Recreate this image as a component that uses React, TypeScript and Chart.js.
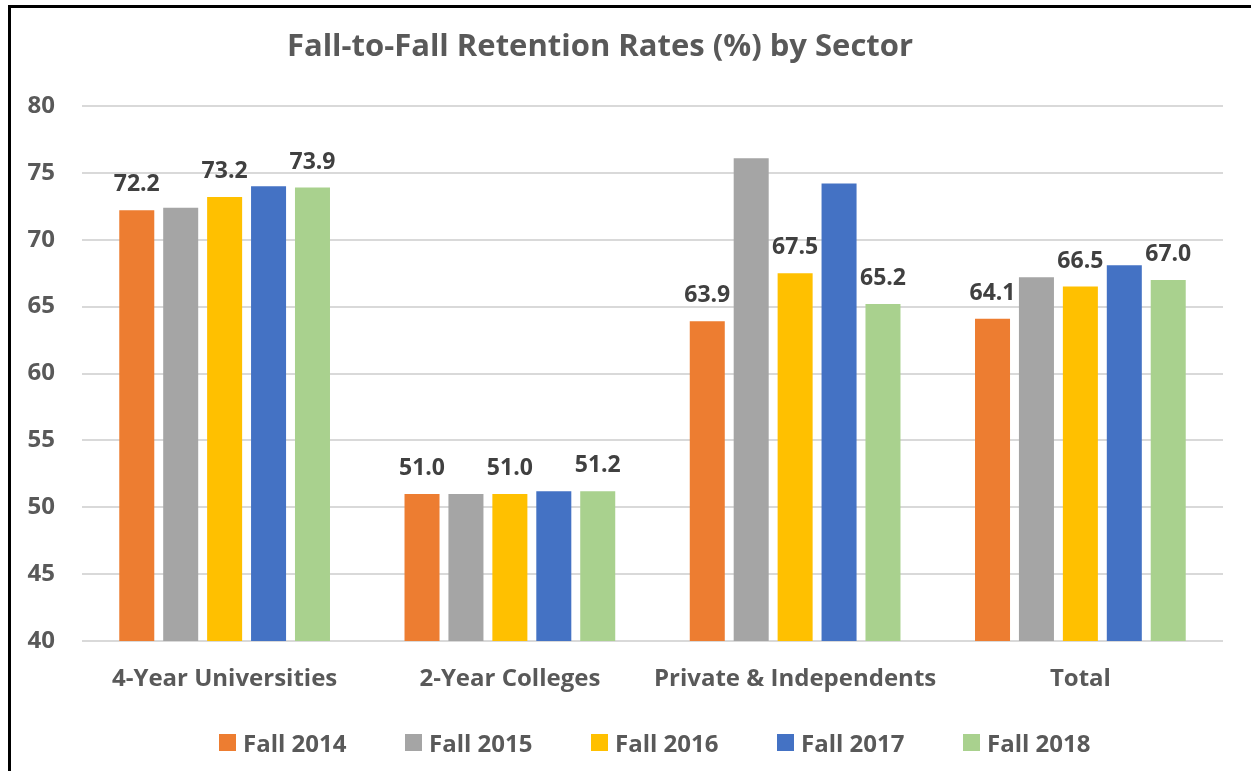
import React, { useEffect, useRef } from "react";
import { Chart, registerables } from "chart.js";

Chart.register(...registerables);

const categories = ["4-Year Universities", "2-Year Colleges", "Private & Independents", "Total"];
const seriesNames = ["Fall 2014", "Fall 2015", "Fall 2016", "Fall 2017", "Fall 2018"];
const fall2014 = [72.2, 51.0, 63.9, 64.1];
const fall2015 = [72.4, 51.0, 76.1, 67.2];
const fall2016 = [73.2, 51.0, 67.5, 66.5];
const fall2017 = [74.0, 51.2, 74.2, 68.1];
const fall2018 = [73.9, 51.2, 65.2, 67.0];
const seriesValues = [fall2014, fall2015, fall2016, fall2017, fall2018];
const seriesColors = ["#ED7D31", "#A5A5A5", "#FFC000", "#4472C4", "#A9D18E"];
const labeledSeries = [true, false, true, false, true];
const yMin = 40;
const yMax = 80;
const yStep = 5;
const titleText = "Fall-to-Fall Retention Rates (%) by Sector";

const FONT = "'Open Sans', Lato, sans-serif";

export default function App() {
  const ref = useRef<HTMLCanvasElement>(null);

  useEffect(() => {
    if (!ref.current) return;
    const labelPlugin = {
      id: "barLabels",
      afterDatasetsDraw(chart: any) {
        const ctx = chart.ctx;
        ctx.save();
        ctx.font = `bold 23px ${FONT}`;
        ctx.fillStyle = "#404040";
        ctx.textAlign = "center";
        ctx.textBaseline = "alphabetic";
        chart.data.datasets.forEach((ds: any, i: number) => {
          if (!labeledSeries[i]) return;
          const meta = chart.getDatasetMeta(i);
          meta.data.forEach((bar: any, j: number) => {
            const v = ds.data[j] as number;
            ctx.fillText(v.toFixed(1), bar.x, bar.y - 19);
          });
        });
        ctx.restore();
      },
    };

    const chart = new Chart(ref.current, {
      type: "bar",
      data: {
        labels: categories,
        datasets: seriesNames.map((name, i) => ({
          label: name,
          data: seriesValues[i],
          backgroundColor: seriesColors[i],
          borderWidth: 0,
          categoryPercentage: 0.77,
          barPercentage: 0.797,
        })),
      },
      options: {
        responsive: false,
        animation: false,
        devicePixelRatio: 1,
        layout: { padding: { left: 0, right: 28, top: 98, bottom: 74 } },
        plugins: {
          title: { display: false },
          tooltip: { enabled: false },
          legend: { display: false },
        },
        scales: {
          x: {
            grid: { display: false, drawTicks: false },
            border: { display: false },
            ticks: {
              color: "#595959",
              font: { family: FONT, size: 24, weight: "bold" },
              padding: 24,
              autoSkip: false,
              maxRotation: 0,
              minRotation: 0,
            },
            afterFit(scale: any) {
              scale.height = 56;
            },
          },
          y: {
            min: yMin,
            max: yMax,
            grid: { color: "#D9D9D9", lineWidth: 2, drawTicks: false },
            border: { display: false },
            ticks: {
              stepSize: yStep,
              color: "#595959",
              font: { family: FONT, size: 24, weight: "bold" },
              padding: 27,
            },
            afterFit(scale: any) {
              scale.width = 71;
            },
          },
        },
      },
      plugins: [labelPlugin],
    });
    return () => chart.destroy();
  }, []);

  return (
    <div
      style={{
        position: "fixed",
        left: 0,
        top: 0,
        width: 1251,
        height: 771,
        overflow: "hidden",
        background: "#fff",
      }}
    >
      <div
        style={{
          position: "absolute",
          left: 8,
          top: 5,
          width: 1243,
          height: 766,
          borderLeft: "3px solid #000",
          borderTop: "3px solid #000",
        }}
      >
        <canvas
          ref={ref}
          width={1240}
          height={763}
          style={{ position: "absolute", left: 0, top: 0, width: 1240, height: 763 }}
        />
        <div
          style={{
            position: "absolute",
            left: 0,
            top: 18,
            width: 1178,
            textAlign: "center",
            fontFamily: FONT,
            fontWeight: "bold",
            fontSize: 31,
            lineHeight: "36px",
            color: "#595959",
            whiteSpace: "nowrap",
          }}
        >
          {titleText}
        </div>
        <div
          style={{
            position: "absolute",
            left: 208,
            top: 717,
            height: 34,
            display: "flex",
            alignItems: "center",
            fontFamily: FONT,
            fontWeight: "bold",
            fontSize: 24,
            color: "#595959",
            whiteSpace: "nowrap",
          }}
        >
          {seriesNames.map((name, i) => (
            <div key={name} style={{ width: 186, display: "flex", alignItems: "center" }}>
              <span
                style={{
                  display: "inline-block",
                  width: 17,
                  height: 17,
                  background: seriesColors[i],
                  marginRight: 7,
                }}
              />
              <span>{name}</span>
            </div>
          ))}
        </div>
      </div>
    </div>
  );
}
